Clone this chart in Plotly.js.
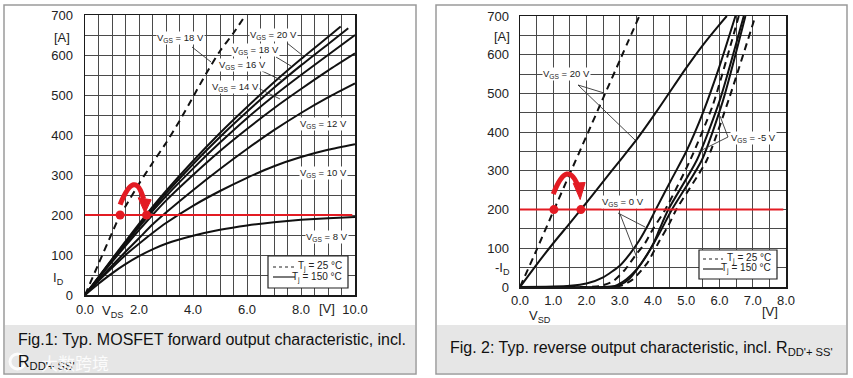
<!DOCTYPE html>
<html><head><meta charset="utf-8">
<script src="https://cdn.plot.ly/plotly-3.0.1.min.js"></script>
<style>html,body{margin:0;padding:0;background:#fff;}#chart{width:853px;height:378px;}</style>
</head><body><div id="chart"></div>
<script>
// ---------- Fig.1 data (forward output, Tj = 150 °C solid, Tj = 25 °C dashed) ----------
const vdsStd = [0,0.5,1,1.5,2,2.5,3,4,5,6,7,8,9,10];
const vds20 = [0,0.5,1,1.5,2,2.5,3,4,5,6,7,8,9,9.47];
const id20  = [0,45,90,134,178,220,260,335,405,470,532,590,645,671];
const vds18 = [0,0.5,1,1.5,2,2.5,3,4,5,6,7,8,9,9.75];
const id18  = [0,44,88,131,174,215,254,327,395,458,518,574,627,667];
const id16  = [0,43,86,128,170,210,247,316,381,442,498,550,600,650];
const id14  = [0,42,83,123,162,200,236,300,360,415,467,515,561,604];
const id12  = [0,37,73,108,142,176,206,262,315,365,412,455,494,529];
const id10  = [0,35,68,100,128,155,180,223,260,293,322,345,363,377];
const id8   = [0,28,54,77,97,114,128,148,163,174,182,188,192,195];
const vds18c = [0,0.5,1,1.3,1.5,2,2.5,3,3.5,4,4.5,5,5.5,5.95];
const id18c  = [0,78,155,200,222,278,330,380,435,495,555,610,655,700];
const redLevel1 = 200;
const redDots1X = [1.3,2.28];

// ---------- Fig.2 data (reverse output) ----------
const vsd20c = [0,0.5,1,1.5,2,2.5,3,3.59];
const isd20c = [0,96,195,293,390,488,585,700];
const vsd20h = [0,0.5,1,1.5,1.83,2,2.5,3,3.5,4,4.5,5,5.5,6,6.22];
const isd20h = [0,58,113,165,200,218,272,326,380,440,503,566,625,678,700];
const vsdA = [0,1,1.5,2,2.5,3,3.3,3.6,3.85,4.07,4.6,5,5.5,6,6.48];
const isdA = [0,1,3,9,25,55,85,122,160,198,285,350,450,570,700];
const vsdB = [0,2,2.4,2.8,3.16,3.5,3.76,4,4.37,5.12,5.8,6.58];
const isdB = [0,0,2,15,45,85,113,150,200,328,470,700];
const vsdC = [0,2.5,2.86,3.2,3.5,3.8,4,4.2,4.46,5.32,6,6.73];
const isdC = [0,0,3,20,45,80,110,150,200,328,480,700];
const vsdD = [0,2.7,3,3.3,3.6,3.9,4.2,4.57,5.47,6.1,6.78];
const isdD = [0,0,5,22,55,95,140,200,328,480,700];
const vsdE = [0,2.8,3.1,3.4,3.82,4.2,4.47,4.7,5.62,6.3,7.08];
const isdE = [0,0,5,20,61,120,160,200,328,490,700];
const redLevel2 = 200;
const redDots2X = [1.02,1.83];

// ---------- helpers ----------
const W=853,H=378;
const px=x=>x/W, py=y=>1-y/H;
const BLK='#111', RED='#e31b23', FONT='Liberation Sans, Arial, sans-serif';

function curve(x,y,ax,dash){
  return {x:x,y:y,xaxis:ax[0],yaxis:ax[1],mode:'lines',hoverinfo:'skip',
    line:{color:BLK,width:2,shape:'spline',smoothing:0.6,dash:dash?'7px,5px':'solid'}};
}
const A1=['x','y'],A2=['x2','y2'];
const traces=[
  curve(vds20,id20,A1),curve(vds18,id18,A1),curve(vdsStd,id16,A1),curve(vdsStd,id14,A1),
  curve(vdsStd,id12,A1),curve(vdsStd,id10,A1),curve(vdsStd,id8,A1),curve(vds18c,id18c,A1,true),
  {x:[0,9.9],y:[redLevel1,redLevel1],xaxis:'x',yaxis:'y',mode:'lines',line:{color:RED,width:2},hoverinfo:'skip'},
  {x:redDots1X,y:redDots1X.map(()=>redLevel1),xaxis:'x',yaxis:'y',mode:'markers',marker:{color:RED,size:9},hoverinfo:'skip'},
  curve(vsd20c,isd20c,A2,true),curve(vsd20h,isd20h,A2),
  curve(vsdA,isdA,A2),curve(vsdB,isdB,A2,true),curve(vsdC,isdC,A2),curve(vsdD,isdD,A2),curve(vsdE,isdE,A2,true),
  {x:[0,7.92],y:[redLevel2,redLevel2],xaxis:'x2',yaxis:'y2',mode:'lines',line:{color:RED,width:2},hoverinfo:'skip'},
  {x:redDots2X,y:redDots2X.map(()=>redLevel2),xaxis:'x2',yaxis:'y2',mode:'markers',marker:{color:RED,size:9},hoverinfo:'skip'}
];

function axisBase(extra){
  return Object.assign({showgrid:true,gridcolor:'#4a4a4a',gridwidth:1,
    showline:true,mirror:true,linecolor:'#1a1a1a',linewidth:1.5,zeroline:false,ticks:'',
    tickfont:{family:FONT,size:13,color:'#222'},fixedrange:true},extra);
}
const shapes=[];
function rect(x0,y0,x1,y1,fill,lc,lw){shapes.push({type:'rect',xref:'paper',yref:'paper',x0:px(x0),x1:px(x1),y0:py(y1),y1:py(y0),
  fillcolor:fill,line:{color:lc||'rgba(0,0,0,0)',width:lw||0},layer:'below'});}
function seg(x0,y0,x1,y1,c,w,dash,layer){shapes.push({type:'line',xref:'paper',yref:'paper',x0:px(x0),y0:py(y0),x1:px(x1),y1:py(y1),
  line:{color:c,width:w,dash:dash||'solid'},layer:layer||'above'});}
// panels
rect(5,325,415,373,'#e6e6e6');
rect(437,325,846,373,'#e6e6e6');
rect(4,5,416,374,'rgba(0,0,0,0)','#9a9a9a',1.5);
rect(436,5,847,374,'rgba(0,0,0,0)','#9a9a9a',1.5);
// legend boxes
function legendBox(x0,y0,x1,y1,ly1,ly2,lx0,lx1){
  shapes.push({type:'rect',xref:'paper',yref:'paper',x0:px(x0),x1:px(x1),y0:py(y1),y1:py(y0),fillcolor:'#fff',line:{color:'#222',width:1.2},layer:'above'});
  seg(lx0,ly1,lx1,ly1,'#222',1.2,'3px,3px');
  seg(lx0,ly2,lx1,ly2,'#222',1.2);
}
legendBox(268,256,348,288,267,277,273,295);
legendBox(699,250,777,279,259,269,703,723);
// leader lines
const leaders=[
  [192,47,211,62],[287,43,302,55],[276,57,291,66],[262,71,283,81],[258,88,280,99],
  [578,85,604,93],[578,85,635,140],
  [728,137,720,116],[728,137,698,152],
  [618,213,645,227],[620,214,637,258]
];
leaders.forEach(l=>seg(l[0],l[1],l[2],l[3],'#333',0.9));
// watermark logo ring
shapes.push({type:'circle',xref:'paper',yref:'paper',x0:px(10),x1:px(25),y0:py(369),y1:py(354),line:{color:'rgba(255,255,255,0.85)',width:3}});

// red curved arrows (annotation marks, in data units)
const arrow1={s:[1.3,226],c:[1.85,318],e:[2.17,240],head:[[2.22,205],[1.97,243],[2.45,238]]};
const arrow2={s:[1.0,240],c:[1.435,336],e:[1.77,255],head:[[1.81,226],[1.6,268],[1.96,270]]};
function arrowShapes(a,xr,yr){
  shapes.push({type:'path',xref:xr,yref:yr,path:`M ${a.s[0]},${a.s[1]} Q ${a.c[0]},${a.c[1]} ${a.e[0]},${a.e[1]}`,line:{color:RED,width:5},fillcolor:'rgba(0,0,0,0)'});
  const h=a.head;
  shapes.push({type:'path',xref:xr,yref:yr,path:`M ${h[0][0]},${h[0][1]} L ${h[1][0]},${h[1][1]} L ${h[2][0]},${h[2][1]} Z`,line:{color:RED,width:1},fillcolor:RED});
}
arrowShapes(arrow1,'x','y');
arrowShapes(arrow2,'x2','y2');

const ann=[];
function txt(t,x,y,size,opts){ann.push(Object.assign({text:t,xref:'paper',yref:'paper',x:px(x),y:py(y),showarrow:false,
  xanchor:'center',yanchor:'middle',font:{family:FONT,size:size,color:'#222'}},opts||{}));}
function lab(t,x,y){txt(t,x,y,9.5,{bgcolor:'#fff',borderpad:0});}
lab('V<sub>GS</sub> = 18 V',180,38);
lab('V<sub>GS</sub> = 20 V',273,35);
lab('V<sub>GS</sub> = 18 V',256,50);
lab('V<sub>GS</sub> = 16 V',242,65);
lab('V<sub>GS</sub> = 14 V',235,87);
lab('V<sub>GS</sub> = 12 V',323,124);
lab('V<sub>GS</sub> = 10 V',323,173);
lab('V<sub>GS</sub> = 8 V',327,237);
lab('V<sub>GS</sub> = 20 V',566,74);
lab('V<sub>GS</sub> = -5 V',753,138);
lab('V<sub>GS</sub> = 0 V',623,202);
// legend texts
txt('T<sub>j</sub> = 25 °C',344,266,10,{xanchor:'right'});
txt('T<sub>j</sub> = 150 °C',344,277,10,{xanchor:'right'});
txt('T<sub>j</sub> = 25 °C',773,258,10,{xanchor:'right'});
txt('T<sub>j</sub> = 150 °C',773,268,10,{xanchor:'right'});
// axis labels
txt('[A]',62,37,13); txt('I<sub>D</sub>',58,278,13); txt('V<sub>DS</sub>',112,311,13); txt('[V]',327,308,13);
txt('[A]',502,36,13); txt('-I<sub>D</sub>',502,268,13); txt('V<sub>SD</sub>',540,316,13); txt('[V]',770,311,13);
// captions
txt('Fig.1: Typ. MOSFET forward output characteristic, incl.',16,339,16,{xanchor:'left',font:{family:FONT,size:16,color:'#111'}});
txt('R<sub>DD\'+ SS\'</sub>',16,362,16,{xanchor:'left',font:{family:FONT,size:16,color:'#111'}});
txt('大数跨境',75,362,17,{font:{family:'Noto Sans CJK SC',size:17,color:'rgba(255,255,255,0.85)'}});
txt('Fig. 2: Typ. reverse output characteristic, incl. R<sub>DD\'+ SS\'</sub>',448,348,16,{xanchor:'left',font:{family:FONT,size:16,color:'#111'}});

const minorX={dtick:0.5,showgrid:true,gridcolor:'#4a4a4a',gridwidth:1};
const minorY={dtick:50,showgrid:true,gridcolor:'#4a4a4a',gridwidth:1};
const layout={width:W,height:H,margin:{l:0,r:0,t:0,b:0},paper_bgcolor:'#fff',plot_bgcolor:'#fff',showlegend:false,
  xaxis:axisBase({domain:[px(85),px(355)],range:[0,10],dtick:2,tick0:0,tickformat:'.1f',minor:minorX,anchor:'y',ticklabelstandoff:2}),
  yaxis:axisBase({domain:[py(295),py(15)],range:[0,700],dtick:100,tick0:0,minor:minorY,anchor:'x',ticklabelstandoff:8}),
  xaxis2:axisBase({domain:[px(520),px(786)],range:[0,8],dtick:1,tick0:0,tickformat:'.1f',minor:minorX,anchor:'y2',ticklabelstandoff:1}),
  yaxis2:axisBase({domain:[py(287),py(16)],range:[0,700],dtick:100,tick0:0,minor:minorY,anchor:'x2',ticklabelstandoff:7}),
  shapes:shapes,annotations:ann};
Plotly.newPlot('chart',traces,layout,{staticPlot:true,displayModeBar:false});
</script></body></html>
